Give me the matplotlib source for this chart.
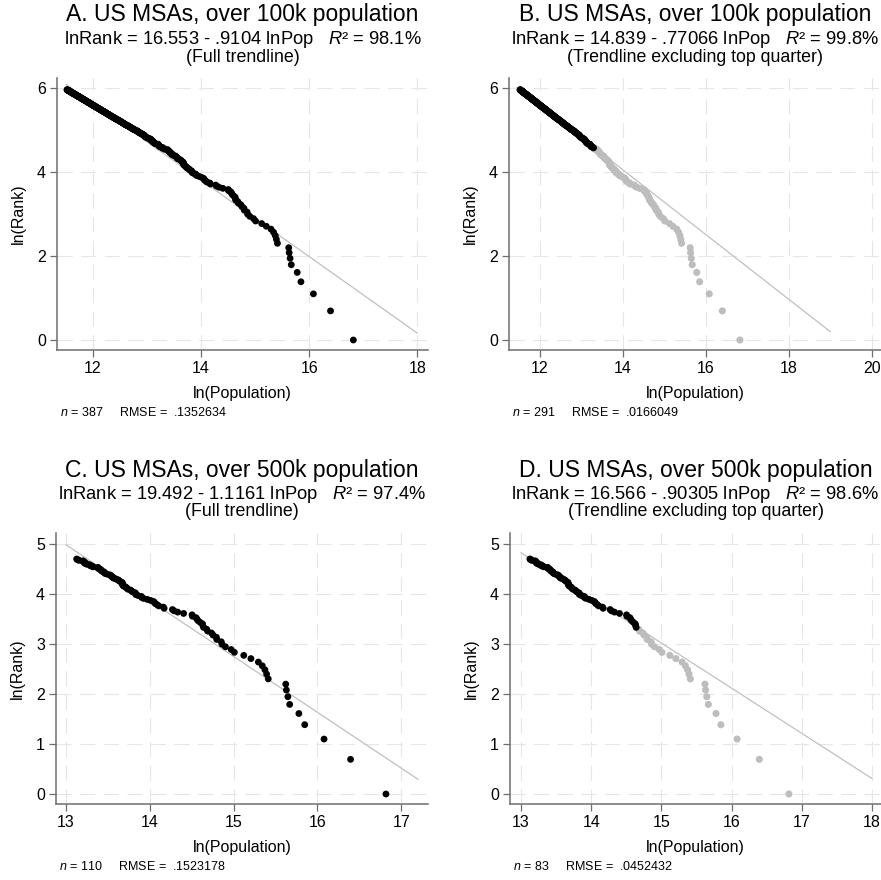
import numpy as np
import matplotlib.pyplot as plt

plt.rcParams['font.family'] = ['Liberation Sans', 'DejaVu Sans']
plt.rcParams['mathtext.fontset'] = 'custom'
plt.rcParams['mathtext.rm'] = 'Liberation Sans'
plt.rcParams['mathtext.it'] = 'Liberation Sans:italic'
plt.rcParams['lines.scale_dashes'] = False

# MSA populations (thousands), sorted by rank
pop_k = [
    20140, 13201, 9619, 7637, 7122, 6385, 6245, 6138, 6090, 4942,
    4846, 4749, 4600, 4392, 4019, 3690, 3299, 3175, 2964, 2845,
    2820, 2673, 2660, 2558, 2513, 2397, 2371, 2283, 2265, 2257,
    2192, 2139, 2111, 2088, 2000, 1990, 1800, 1677, 1606, 1575,
    1426, 1414, 1338, 1314, 1285, 1272, 1258, 1214, 1167, 1115,
    1090, 1088, 1043, 1017, 1015, 1009, 979, 968, 957, 928,
    917, 909, 899, 880, 871, 870, 869, 865, 862, 844,
    834, 829, 814, 800, 779, 777, 765, 761, 755, 748,
    725, 709, 702, 699, 695, 681, 676, 671, 669, 662,
    650, 648, 647, 611, 607, 592, 592, 586, 568, 563,
    553, 553, 552, 547, 541, 541, 517, 510, 506, 502,
    497, 492, 491, 489, 487, 478, 475, 475, 473, 469,
    456, 453, 448, 439, 433, 430, 428, 423, 422, 421,
    419, 416, 410, 406, 402, 398, 394, 390, 386, 382,
    378, 376, 375, 372, 368, 365, 360, 356, 352, 348,
    345, 340, 339, 338, 334, 330, 328, 326, 323, 320,
    318, 315, 314, 310, 307, 303, 301, 298, 296, 294,
    292, 290, 288, 286, 284, 282, 280, 278, 276, 274,
    272, 270, 268, 267, 265, 263, 261, 259, 257, 255,
    253, 251, 249, 247, 246, 244, 243, 241, 239, 238,
    236, 235, 233, 232, 230, 229, 227, 226, 224, 223,
    222, 221, 219, 218, 217, 215, 214, 213, 211, 210,
    209, 208, 207, 206, 204, 203, 202, 201, 200, 198,
    197, 196, 195, 194, 193, 192, 191, 190, 189, 188,
    187, 186, 185, 184, 183, 182, 181, 180, 179, 178,
    177, 176, 175, 174, 174, 173, 172, 171, 170, 169,
    168, 167, 167, 166, 165, 164, 163, 162, 162, 161,
    160, 159, 159, 158, 157, 156, 156, 155, 154, 154,
    153, 152, 152, 151, 150, 149, 149, 148, 147, 147,
    146, 146, 145, 144, 144, 143, 142, 142, 141, 140,
    140, 139, 139, 138, 137, 137, 136, 136, 135, 135,
    134, 134, 133, 132, 132, 131, 131, 130, 130, 129,
    129, 128, 128, 127, 127, 126, 126, 125, 125, 124,
    124, 123, 123, 122, 122, 121, 121, 120, 120, 119,
    119, 118.5, 118, 117.5, 117, 116.5, 116, 115.5, 115, 115,
    114.5, 114, 113.5, 113, 112.5, 112, 112, 111.5, 111, 111,
    110.5, 110, 109.5, 109, 109, 108.5, 108, 107.5, 107.5, 107,
    106.5, 106, 106, 105.5, 105, 104.5, 104.5, 104, 103.5, 103.5,
    103, 102.5, 102, 102, 101.5, 101, 100.5,
]

titles = ['A. US MSAs, over 100k population', 'B. US MSAs, over 100k population',
          'C. US MSAs, over 500k population', 'D. US MSAs, over 500k population']
subtitles = ['(Full trendline)', '(Trendline excluding top quarter)',
             '(Full trendline)', '(Trendline excluding top quarter)']
intercepts = ['16.553', '14.839', '19.492', '16.566']
slopes = ['.9104', '.77066', '1.1161', '.90305']
r2 = ['98.1', '99.8', '97.4', '98.6']
n_obs = [387, 291, 110, 83]
rmse = ['.1352634', '.0166049', '.1523178', '.0452432']
sample_size = [387, 387, 110, 110]
n_gray = [0, 96, 0, 27]
line_x = [(11.5, 18), (11.5, 19), (13, 17.2), (13, 18)]
xticks = [[12, 14, 16, 18], [12, 14, 16, 18, 20], [13, 14, 15, 16, 17], [13, 14, 15, 16, 17, 18]]
yticks = [[0, 2, 4, 6], [0, 2, 4, 6], [0, 1, 2, 3, 4, 5], [0, 1, 2, 3, 4, 5]]
xlims = [(11.333, 18.2), (11.253, 20.22), (12.88, 17.32), (12.843, 18.13)]
ylims = [(-0.238, 6.238), (-0.238, 6.238), (-0.2, 5.22), (-0.2, 5.22)]

W, H = 881, 880
# axes boxes in pixels: left, right, top, bottom
boxes = [(57, 428, 78, 350), (509, 881, 78, 350), (56, 428, 533, 804), (510, 881, 533, 804)]

pop_k = np.array(pop_k, dtype=float)
ln_pop_all = np.log(pop_k * 1000)
ln_rank_all = np.log(np.arange(1, len(pop_k) + 1))

fig = plt.figure(figsize=(W / 100, H / 100), dpi=100)
spine_col = '#6e6e6e'
grid_col = '#e6e6e6'
gray = '#bdbdbd'

for i in range(4):
    l, r, t, b = boxes[i]
    ax = fig.add_axes([l / W, 1 - b / H, (r - l) / W, (b - t) / H])
    m = sample_size[i]
    x = ln_pop_all[:m]
    y = ln_rank_all[:m]

    for gx in xticks[i]:
        ax.axvline(gx, color=grid_col, lw=0.8, dashes=(11, 6), zorder=0)
    for gy in yticks[i]:
        ax.axhline(gy, color=grid_col, lw=0.8, dashes=(11, 6), zorder=0)

    x0, x1 = line_x[i]
    a, s = float(intercepts[i]), float(slopes[i])
    ax.plot([x0, x1], [a - s * x0, a - s * x1], color='#c0c0c0', lw=0.9, zorder=1)

    k = n_gray[i]
    if k:
        ax.scatter(x[:k], y[:k], s=26, color=gray, edgecolors='none', zorder=2)
    ax.scatter(x[k:], y[k:], s=24, color='black', edgecolors='none', zorder=3)

    ax.set_xlim(*xlims[i])
    ax.set_ylim(*ylims[i])
    ax.set_xticks(xticks[i])
    ax.set_yticks(yticks[i])
    for side in ['top', 'right']:
        ax.spines[side].set_visible(False)
    for side in ['left', 'bottom']:
        ax.spines[side].set_color(spine_col)
        ax.spines[side].set_linewidth(1.1)
    ax.tick_params(colors=spine_col, labelcolor='black', labelsize=11.5, length=5, width=0.9, pad=3)
    ax.set_xlabel('ln(Population)', fontsize=11.5, labelpad=7)
    ax.set_ylabel('ln(Rank)', fontsize=11.5, labelpad=8)

    cx = (l + r) / 2 / W
    fig.text(cx, 1 - (t - 63) / H, titles[i], ha='center', va='center', fontsize=16.5)
    sub = ('lnRank = %s - %s lnPop   $\\mathit{R}$\u00b2 = %s%%' % (intercepts[i], slopes[i], r2[i]))
    fig.text(cx, 1 - (t - 39) / H, sub, ha='center', va='center', fontsize=13.2)
    fig.text(cx, 1 - (t - 21) / H, subtitles[i], ha='center', va='center', fontsize=12.8)
    fig.text((l + 3) / W, 1 - (b + 62) / H,
             '$\\mathit{n}$ = %d     RMSE =  %s' % (n_obs[i], rmse[i]),
             ha='left', va='center', fontsize=9)

fig.savefig('out.png', dpi=100, facecolor='white')
